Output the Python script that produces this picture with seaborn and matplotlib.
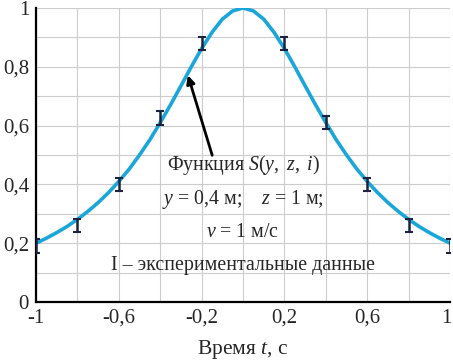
import numpy as np
import pandas as pd
import matplotlib
matplotlib.use("Agg")
import matplotlib.pyplot as plt
import matplotlib.transforms as mtransforms
import seaborn as sns

# curve (time, S)
t_curve = [-1.0, -0.95, -0.9, -0.85, -0.8, -0.75, -0.7, -0.65, -0.6, -0.55, -0.5,
           -0.45, -0.4, -0.35, -0.3, -0.25, -0.2, -0.15, -0.1, -0.05, 0.0,
           0.05, 0.1, 0.15, 0.2, 0.25, 0.3, 0.35, 0.4, 0.45, 0.5,
           0.55, 0.6, 0.65, 0.7, 0.75, 0.8, 0.85, 0.9, 0.95, 1.0]
s_curve = [0.200, 0.217, 0.236, 0.257, 0.281, 0.308, 0.338, 0.372, 0.410, 0.452, 0.500,
           0.552, 0.610, 0.671, 0.735, 0.800, 0.862, 0.917, 0.962, 0.990, 1.000,
           0.990, 0.962, 0.917, 0.862, 0.800, 0.735, 0.671, 0.610, 0.552, 0.500,
           0.452, 0.410, 0.372, 0.338, 0.308, 0.281, 0.257, 0.236, 0.217, 0.200]

# experimental points
t_exp = [-1.0, -0.8, -0.6, -0.4, -0.2, 0.2, 0.4, 0.6, 0.8, 1.0]
s_exp = [0.19, 0.26, 0.40, 0.625, 0.88, 0.88, 0.61, 0.40, 0.26, 0.19]

x_ticks = [-1, -0.6, -0.2, 0.2, 0.6, 1]
y_ticks = [0, 0.2, 0.4, 0.6, 0.8, 1]

sns.set_style("white")
plt.rcParams["font.family"] = ["Liberation Serif", "DejaVu Serif"]
plt.rcParams["mathtext.fontset"] = "custom"
plt.rcParams["mathtext.rm"] = "Liberation Serif"
plt.rcParams["mathtext.it"] = "Liberation Serif:italic"

fig = plt.figure(figsize=(4.53, 3.63), dpi=100)
ax = fig.add_axes([0.0795, 0.168, 0.914, 0.810])

df = pd.DataFrame({"t": t_curve, "s": s_curve})
sns.lineplot(data=df, x="t", y="s", ax=ax, color="#1ba6d9", linewidth=2.6, zorder=3)

ax.errorbar(t_exp, s_exp, yerr=0.023, fmt="none", ecolor="#1c2340",
            elinewidth=1.8, capsize=3.2, capthick=1.5, zorder=4)

ax.set_xlim(-1, 1)
ax.set_ylim(0, 1)
ax.set_xticks(x_ticks)
ax.set_xticklabels([("%g" % v).replace(".", ",") for v in x_ticks])
ax.set_yticks(y_ticks)
ax.set_yticklabels([("%g" % v).replace(".", ",") for v in y_ticks])
ax.set_xticks(np.arange(-1, 1.01, 0.2), minor=True)
ax.set_yticks(np.arange(0, 1.01, 0.1), minor=True)
ax.grid(True, which="both", color="#cccccc", linewidth=0.8)
ax.set_axisbelow(True)
ax.tick_params(which="both", length=0, labelsize=15, pad=5)

# keep the last x label inside the figure
last = ax.get_xticklabels()[-1]
last.set_transform(last.get_transform() +
                   mtransforms.ScaledTranslation(-4 / 100, 0, fig.dpi_scale_trans))

for side in ["top", "right"]:
    ax.spines[side].set_visible(False)
for side in ["left", "bottom"]:
    ax.spines[side].set_color("black")
    ax.spines[side].set_linewidth(1.6)

ax.set_xlabel("Время $t$, с", fontsize=15.5, labelpad=7)
ax.set_ylabel("")

ax.annotate("", xy=(-0.27, 0.78), xytext=(-0.145, 0.49),
            arrowprops=dict(arrowstyle="-|>", color="black", lw=2, mutation_scale=12))

fs = 14.3
ax.text(0.0, 0.465, "Функция $\\mathit{S(y,\\ z,\\ i)}$", ha="center", va="center", fontsize=fs)
ax.text(0.0, 0.35, "$y$ = 0,4 м;    $z$ = 1 м;", ha="center", va="center", fontsize=fs)
ax.text(0.0, 0.238, "$v$ = 1 м/с", ha="center", va="center", fontsize=fs)
ax.text(0.0, 0.125, "I – экспериментальные данные", ha="center", va="center", fontsize=fs)

fig.savefig("out.png", dpi=100)
